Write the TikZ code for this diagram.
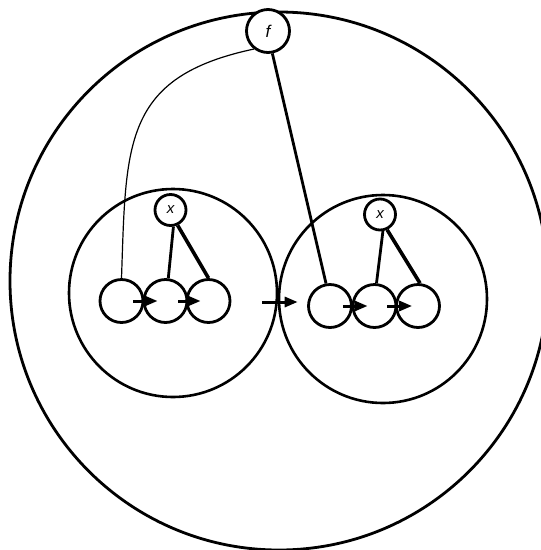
\documentclass[tikz,border=0pt]{standalone}
\usepackage{fontspec}
\setsansfont{Liberation Sans}
\usetikzlibrary{arrows.meta,calc}
\begin{document}
\begin{tikzpicture}[x=1pt,y=-1pt,
  ring/.style={circle,draw,line width=2.8pt,inner sep=0pt},
  outer/.style={ring,minimum size=538pt},
  group/.style={ring,minimum size=208pt,line width=2.6pt},
  elem/.style={ring,minimum size=43pt},
  var/.style={ring,minimum size=31pt,font=\sffamily\itshape\fontsize{15}{15}\selectfont},
  fun/.style={ring,minimum size=43pt,font=\sffamily\itshape\fontsize{17}{17}\selectfont},
  link/.style={line width=2.8pt},
  thick link/.style={line width=3.6pt},
  thin link/.style={line width=1.2pt},
  flow/.style={line width=3pt,-{Triangle[length=13pt,width=10pt]}}]
\useasboundingbox (0,0) rectangle (541,550);
\clip (0,0) rectangle (541,550);
\node[outer] (big) at (279,281) {};
\node[group] (gl) at (173,293) {};
\node[group] (gr) at (383,299) {};
\node[fun,fill=white] (f) at (268,31) {f};
\node[var,fill=white] (lx) at (170.5,210) {x};
\node[var,fill=white] (rx) at (380,214.5) {x};
\node[elem] (l1) at (121.5,301) {};
\node[elem] (l2) at (165.5,301) {};
\node[elem] (l3) at (208.5,301) {};
\node[elem] (r1) at (330,306) {};
\node[elem] (r2) at (374.5,306) {};
\node[elem] (r3) at (418,306) {};
% arrows in rows
\draw[flow] ([xshift=-11pt]l1.east) -- ([xshift=15pt]l2.west);
\draw[flow] ([xshift=-10pt]l2.east) -- ([xshift=15pt]l3.west);
\draw[flow] ([xshift=-10pt]r1.east) -- ([xshift=16pt]r2.west);
\draw[flow] ([xshift=-10pt]r2.east) -- ([xshift=17pt]r3.west);
\draw[flow] ([xshift=-16pt,yshift=-9pt]gl.east) -- ([xshift=20pt,yshift=-3pt]gr.west);
% links from x
\draw[link] (lx.-80) -- (l2.83);
\draw[thick link] (lx.-65) -- (l3.north);
\draw[link] (rx.-80) -- (r2.85);
\draw[thick link] (rx.-65) -- (r3.85);
% links from f
\draw[link] (f.-79) -- (r1.100);
\draw[thin link] (l1.north) to[out=88,in=192,looseness=1.3] (f.232);
\end{tikzpicture}
\end{document}
